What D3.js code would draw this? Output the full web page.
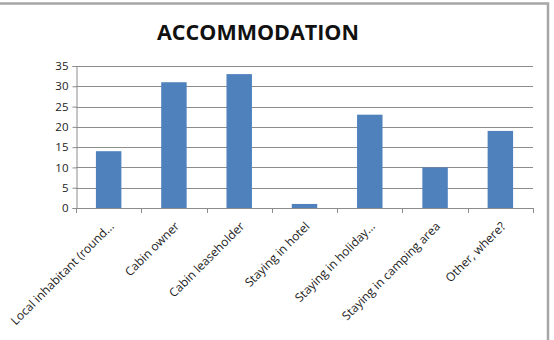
<!DOCTYPE html>
<html>
<head>
<meta charset="utf-8">
<script src="https://cdn.jsdelivr.net/npm/d3@7"></script>
<style>
  body { margin: 0; background: #fff; }
  text { font-family: "Open Sans", "DejaVu Sans", sans-serif; }
</style>
</head>
<body>
<svg id="chart"></svg>
<script>
let width = 554;
let height = 340;

// data
let categories = ["Local inhabitant (round...", "Cabin owner", "Cabin leaseholder",
    "Staying in hotel", "Staying in holiday...", "Staying in camping area", "Other, where?"];
let values = [14, 31, 33, 1, 23, 10, 19];
let yTicks = [0, 5, 10, 15, 20, 25, 30, 35];

let margin = {left: 76, right: 21, top: 66, bottom: 132};

let svg = d3.select('#chart')
    .attr('width', width)
    .attr('height', height);

// frame: only the top and right edges show in the crop
svg.append('path')
    .attr('d', 'M0,3.5 H548 V340')
    .attr('fill', 'none')
    .attr('stroke', '#a6a6a6')
    .attr('stroke-width', 2.5);

// title
svg.append('text')
    .attr('x', 258).attr('y', 40)
    .attr('text-anchor', 'middle')
    .attr('font-size', 21.5)
    .attr('font-weight', 'bold')
    .attr('fill', '#111')
    .text('ACCOMMODATION');

let x = d3.scaleBand()
    .domain(categories)
    .range([margin.left, width - margin.right])
    .paddingInner(0.61)
    .paddingOuter(0.305);

let y = d3.scaleLinear()
    .domain([0, 35])
    .range([height - margin.bottom, margin.top]);

// gridlines
svg.append('g')
    .selectAll('line')
    .data(yTicks)
    .join('line')
    .attr('x1', margin.left)
    .attr('x2', width - margin.right)
    .attr('y1', d => Math.round(y(d)) + 0.5)
    .attr('y2', d => Math.round(y(d)) + 0.5)
    .attr('stroke', '#8c8c8c')
    .attr('stroke-width', 1);

// y axis
let yAxis = svg.append('g')
    .attr('transform', `translate(${margin.left + 0.5},0)`)
    .call(d3.axisLeft(y).tickValues(yTicks).tickSize(4).tickPadding(4));
yAxis.select('.domain').attr('stroke', '#8c8c8c');
yAxis.selectAll('.tick line').attr('stroke', '#8c8c8c');
yAxis.selectAll('text').attr('font-size', 11.5).attr('fill', '#222')
    .attr('font-family', '"Open Sans", sans-serif');

// bars
svg.append('g')
    .selectAll('rect')
    .data(values)
    .join('rect')
    .attr('x', (d, i) => x(categories[i]))
    .attr('y', d => y(d))
    .attr('width', x.bandwidth())
    .attr('height', d => y(0) - y(d))
    .attr('fill', '#4f81bd');

// x axis: ticks at band edges
let edges = categories.map(c => x(c) - x.step() * 0.305).concat([width - margin.right]);
svg.append('g')
    .selectAll('line')
    .data(edges)
    .join('line')
    .attr('x1', d => Math.round(d) + 0.5)
    .attr('x2', d => Math.round(d) + 0.5)
    .attr('y1', y(0))
    .attr('y2', y(0) + 5)
    .attr('stroke', '#8c8c8c');

svg.append('g')
    .selectAll('text')
    .data(categories)
    .join('text')
    .attr('transform', d => `translate(${x(d) + x.bandwidth() / 2 + 6},${y(0) + 19}) rotate(-45)`)
    .attr('text-anchor', 'end')
    .attr('font-size', 12)
    .attr('fill', '#222')
    .text(d => d);
</script>
</body>
</html>
